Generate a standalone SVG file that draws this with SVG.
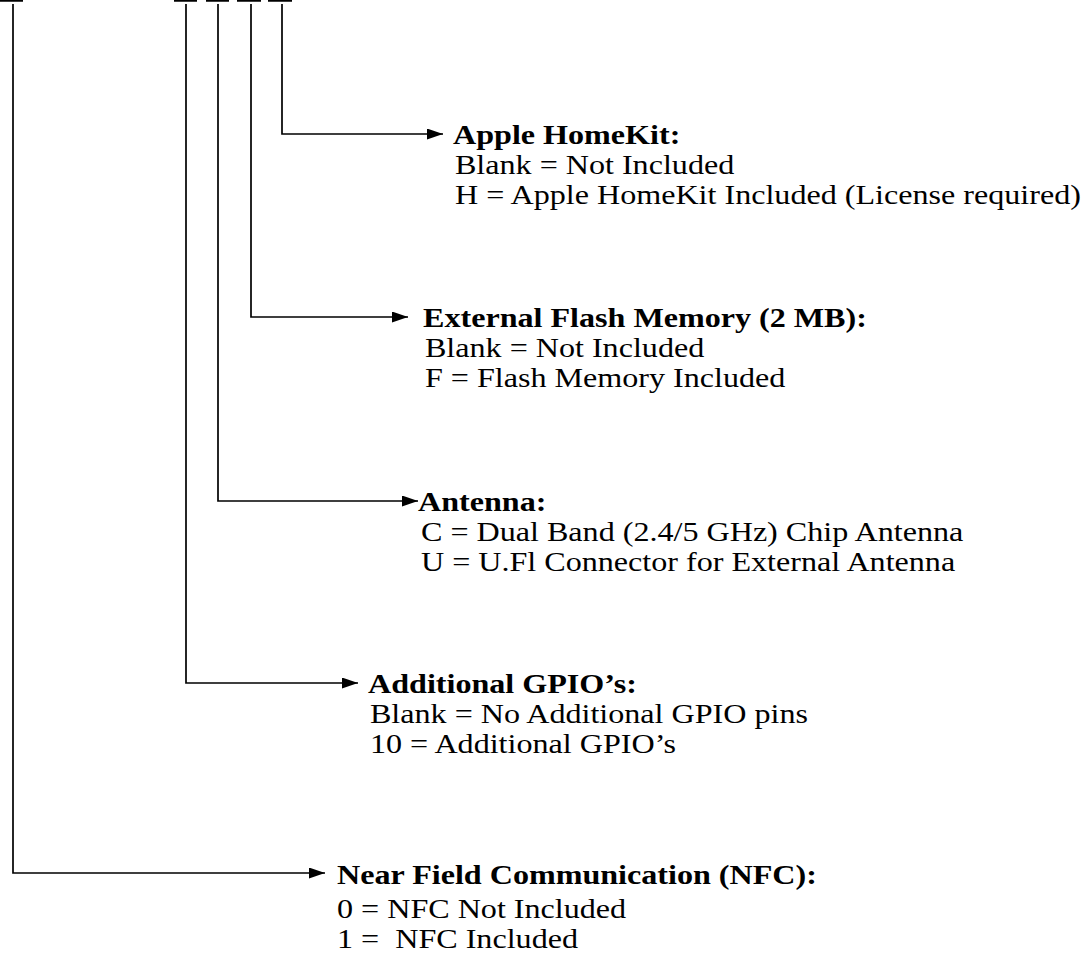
<svg xmlns="http://www.w3.org/2000/svg" width="1090" height="958" viewBox="0 0 1090 958">
<defs>
<style>
.ln{stroke:#000;stroke-width:1.7;fill:none}
.bar{stroke:#000;stroke-width:2.5;fill:none}
.t{font-family:"Liberation Serif","Times New Roman",serif;font-size:28px;fill:#000}
.b{font-weight:bold}
.pre{white-space:pre}
</style>
<marker id="ah" viewBox="0 0 16 11" refX="16" refY="5.5" markerWidth="16" markerHeight="11" markerUnits="userSpaceOnUse" orient="auto">
<path d="M0,0 L16,5.5 L0,11 Z" fill="#000"/>
</marker>
</defs>
<rect width="1090" height="958" fill="#fff"/>
<g id="top-bars">
<line class="bar" x1="0" y1="0.5" x2="23" y2="0.5"/>
<line class="bar" x1="174" y1="0.5" x2="197" y2="0.5"/>
<line class="bar" x1="206" y1="0.5" x2="229" y2="0.5"/>
<line class="bar" x1="237" y1="0.5" x2="261" y2="0.5"/>
<line class="bar" x1="268" y1="0.5" x2="292" y2="0.5"/>
</g>
<g id="connectors">
<polyline class="ln" points="282,4 282,134 443,134" marker-end="url(#ah)"/>
<polyline class="ln" points="251,4 251,317 408,317" marker-end="url(#ah)"/>
<polyline class="ln" points="218,4 218,501 418,501" marker-end="url(#ah)"/>
<polyline class="ln" points="186,4 186,683 358,683" marker-end="url(#ah)"/>
<polyline class="ln" points="13,4 13,873 325,873" marker-end="url(#ah)"/>
</g>
<g id="homekit" transform="translate(453,0) scale(1.147,1)">
<text class="t b" x="0" y="144">Apple HomeKit:</text>
<text class="t" x="1.7" y="174">Blank = Not Included</text>
<text class="t" x="1.7" y="204">H = Apple HomeKit Included (License required)</text>
</g>
<g id="flash" transform="translate(423,0) scale(1.147,1)">
<text class="t b" x="0" y="327">External Flash Memory (2 MB):</text>
<text class="t" x="1.7" y="357">Blank = Not Included</text>
<text class="t" x="1.7" y="387">F = Flash Memory Included</text>
</g>
<g id="antenna" transform="translate(418,0) scale(1.147,1)">
<text class="t b" x="0" y="511">Antenna:</text>
<text class="t" x="2.6" y="541">C = Dual Band (2.4/5 GHz) Chip Antenna</text>
<text class="t" x="2.6" y="571">U = U.Fl Connector for External Antenna</text>
</g>
<g id="gpio" transform="translate(368,0) scale(1.147,1)">
<text class="t b" x="0" y="693">Additional GPIO’s:</text>
<text class="t" x="1.7" y="723">Blank = No Additional GPIO pins</text>
<text class="t" x="1.7" y="753">10 = Additional GPIO’s</text>
</g>
<g id="nfc" transform="translate(337,0) scale(1.147,1)">
<text class="t b" x="0" y="884">Near Field Communication (NFC):</text>
<text class="t" x="0" y="918">0 = NFC Not Included</text>
<text class="t pre" x="0" y="948">1 =  NFC Included</text>
</g>
</svg>
